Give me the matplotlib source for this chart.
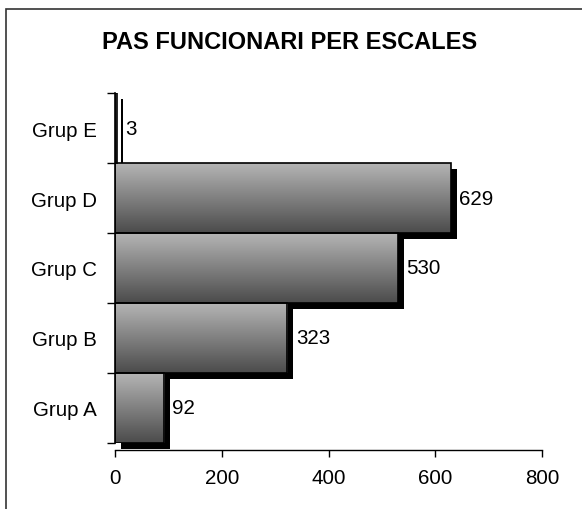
import numpy as np
import matplotlib
matplotlib.use('Agg')
import matplotlib.pyplot as plt
import matplotlib.transforms as mtransforms
from matplotlib.colors import LinearSegmentedColormap
from matplotlib.patches import Rectangle

plt.rcParams['font.family'] = ['Liberation Sans', 'DejaVu Sans']

groups = ['Grup A', 'Grup B', 'Grup C', 'Grup D', 'Grup E']
values = [92, 323, 530, 629, 3]
xticks = [0, 200, 400, 600, 800]
title = 'PAS FUNCIONARI PER ESCALES'

fig = plt.figure(figsize=(5.82, 5.10), dpi=100)
ax = fig.add_axes([115/582, 1 - 444/510, 427/582, 350/510])

# gradient light on top, dark at bottom
grad = LinearSegmentedColormap.from_list('g', ['#4c4c4c', '#b4b4b4'])
gimg = np.linspace(0, 1, 64).reshape(-1, 1)

shadow_tr = mtransforms.offset_copy(ax.transData, fig=fig, x=6, y=-6, units='dots')

for i, v in enumerate(values):
    # black shadow
    ax.add_patch(Rectangle((0, i - 0.5), v, 1.0, facecolor='black', edgecolor='black',
                           lw=0, transform=shadow_tr, zorder=1, clip_on=False))
for i, v in enumerate(values):
    im = ax.imshow(gimg, cmap=grad, aspect='auto', origin='lower',
                   extent=(0, v, i - 0.5, i + 0.5), zorder=2, interpolation='bilinear')
    r = Rectangle((0, i - 0.5), v, 1.0, facecolor='none', edgecolor='black', lw=1.2, zorder=3)
    ax.add_patch(r)
    im.set_clip_path(r)
    ax.annotate(str(v), xy=(v, i), xytext=(6, 0), textcoords='offset points',
                va='center', ha='left', fontsize=14.8, zorder=4)

ax.set_xlim(0, 800)
ax.set_ylim(-0.5, 4.5)
ax.spines['top'].set_visible(False)
ax.spines['right'].set_visible(False)
ax.spines['bottom'].set_position(('outward', 5))
ax.spines['left'].set_linewidth(1.2)
ax.spines['bottom'].set_linewidth(1)
ax.set_xticks(xticks)
ax.set_xticklabels([str(t) for t in xticks])
ax.set_yticks(range(len(groups)))
ax.set_yticklabels(groups)
ax.set_yticks(np.arange(-0.5, 5, 1), minor=True)
ax.tick_params(axis='y', which='major', length=0, pad=13, labelsize=14.8)
ax.tick_params(axis='y', which='minor', length=6, width=1)
ax.tick_params(axis='x', length=5, width=1, pad=8, labelsize=14.8)

fig.text(290/582, 1 - 42.5/510, title, ha='center', va='center',
         fontsize=17, fontweight='bold')

# chart border
fig.patches.append(Rectangle((6/582, -0.1), 1.2, 1 - 10/510 + 0.1, transform=fig.transFigure,
                             facecolor='none', edgecolor='#333333', lw=1.2))

fig.savefig('out.png', dpi=100)
